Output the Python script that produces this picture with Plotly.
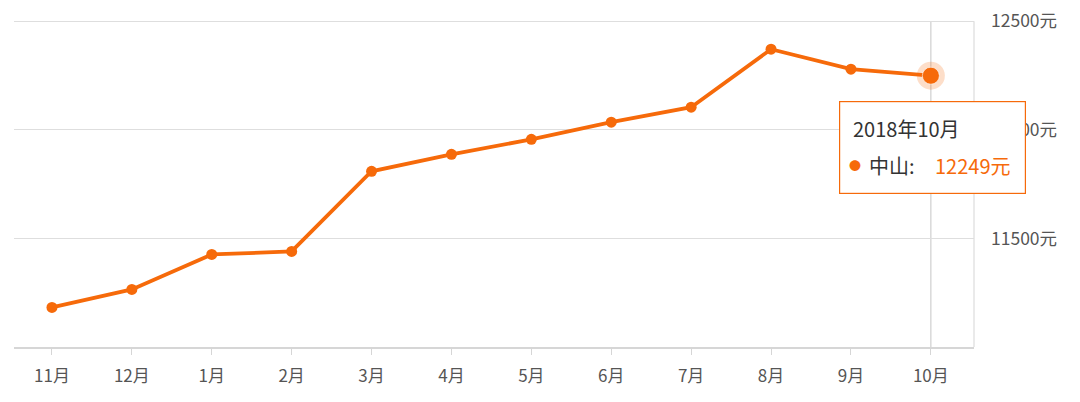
import plotly.graph_objects as go

months = ["11月", "12月", "1月", "2月", "3月", "4月", "5月", "6月", "7月", "8月", "9月", "10月"]
prices = [11182, 11265, 11426, 11440, 11809, 11887, 11956, 12035, 12104, 12371, 12279, 12249]
y_ticks = [11500, 12000, 12500]
y_tick_labels = ["11500元", "12000元", "12500元"]
city = "中山"
hover_title = "2018年10月"

ORANGE = "rgb(246,106,10)"
FONT = "Noto Sans CJK SC"
x_idx = list(range(len(months)))
last = len(months) - 1

fig = go.Figure()
fig.add_trace(go.Scatter(
    x=x_idx, y=prices, mode="lines+markers",
    line=dict(color=ORANGE, width=3.8),
    marker=dict(color=ORANGE, size=11),
    hoverinfo="skip", showlegend=False,
))
# highlight halo on last point
fig.add_trace(go.Scatter(
    x=[x_idx[last]], y=[prices[last]], mode="markers",
    marker=dict(color="rgba(246,106,10,0.22)", size=28),
    hoverinfo="skip", showlegend=False,
))
fig.add_trace(go.Scatter(
    x=[x_idx[last]], y=[prices[last]], mode="markers",
    marker=dict(color=ORANGE, size=17, line=dict(color="rgba(255,255,255,0.6)", width=1)),
    hoverinfo="skip", showlegend=False,
))

shapes = [
    # crosshair
    dict(type="line", xref="x", yref="y", x0=x_idx[last], x1=x_idx[last], y0=11000, y1=y_ticks[-1],
         line=dict(color="#cfcfcf", width=1.2), layer="below"),
    # right border
    dict(type="line", xref="paper", yref="y", x0=1, x1=1, y0=11000, y1=y_ticks[-1],
         line=dict(color="#dcdcdc", width=1.2), layer="below"),
]

annotations = [
    # tooltip box
    dict(x=x_idx[last], y=prices[last], xref="x", yref="y", text=" ", showarrow=False,
         xanchor="left", yanchor="top", xshift=-92, yshift=-25,
         width=185, height=91, bgcolor="white", bordercolor=ORANGE, borderwidth=1.2, borderpad=0,
         font=dict(color=ORANGE)),
    dict(x=x_idx[last], y=prices[last], xref="x", yref="y", text=hover_title, showarrow=False,
         xanchor="left", yanchor="middle", xshift=-80, yshift=-53,
         font=dict(family=FONT, size=20, color="#333333")),
    dict(x=x_idx[last], y=prices[last], xref="x", yref="y", text="●", showarrow=False,
         xanchor="center", yanchor="middle", xshift=-76, yshift=-90,
         font=dict(family=FONT, size=12, color=ORANGE)),
    dict(x=x_idx[last], y=prices[last], xref="x", yref="y", text=f"{city}:", showarrow=False,
         xanchor="left", yanchor="middle", xshift=-64, yshift=-90,
         font=dict(family=FONT, size=20, color="#333333")),
    dict(x=x_idx[last], y=prices[last], xref="x", yref="y",
         text=f"{prices[last]}元", showarrow=False,
         xanchor="left", yanchor="middle", xshift=2, yshift=-90,
         font=dict(family=FONT, size=20, color=ORANGE)),
]

fig.update_layout(
    width=1080, height=402,
    margin=dict(l=6, r=114, t=11, b=63, autoexpand=False),
    paper_bgcolor="white", plot_bgcolor="white",
    font=dict(family=FONT, size=18, color="#555555"),
    xaxis=dict(
        tickmode="array", tickvals=x_idx, ticktext=months,
        range=[-0.475, 11.54], showgrid=False, zeroline=False,
        showline=True, linecolor="#d6d6d6", linewidth=2,
        ticks="outside", ticklen=6, tickcolor="#d6d6d6", tickwidth=1,
        ticklabelstandoff=7, automargin=False,
        tickfont=dict(family=FONT, size=17, color="#555555"),
    ),
    yaxis=dict(
        side="right", range=[11000, 12510],
        tickmode="array", tickvals=y_ticks, ticktext=y_tick_labels,
        showgrid=True, gridcolor="#dedede", gridwidth=1.2,
        zeroline=False, showline=False, ticks="", ticklabelstandoff=16,
        ticklabeloverflow="allow", automargin=False,
        tickfont=dict(family=FONT, size=17.5, color="#555555"),
    ),
    shapes=shapes, annotations=annotations,
)

fig.write_html("out.html")
